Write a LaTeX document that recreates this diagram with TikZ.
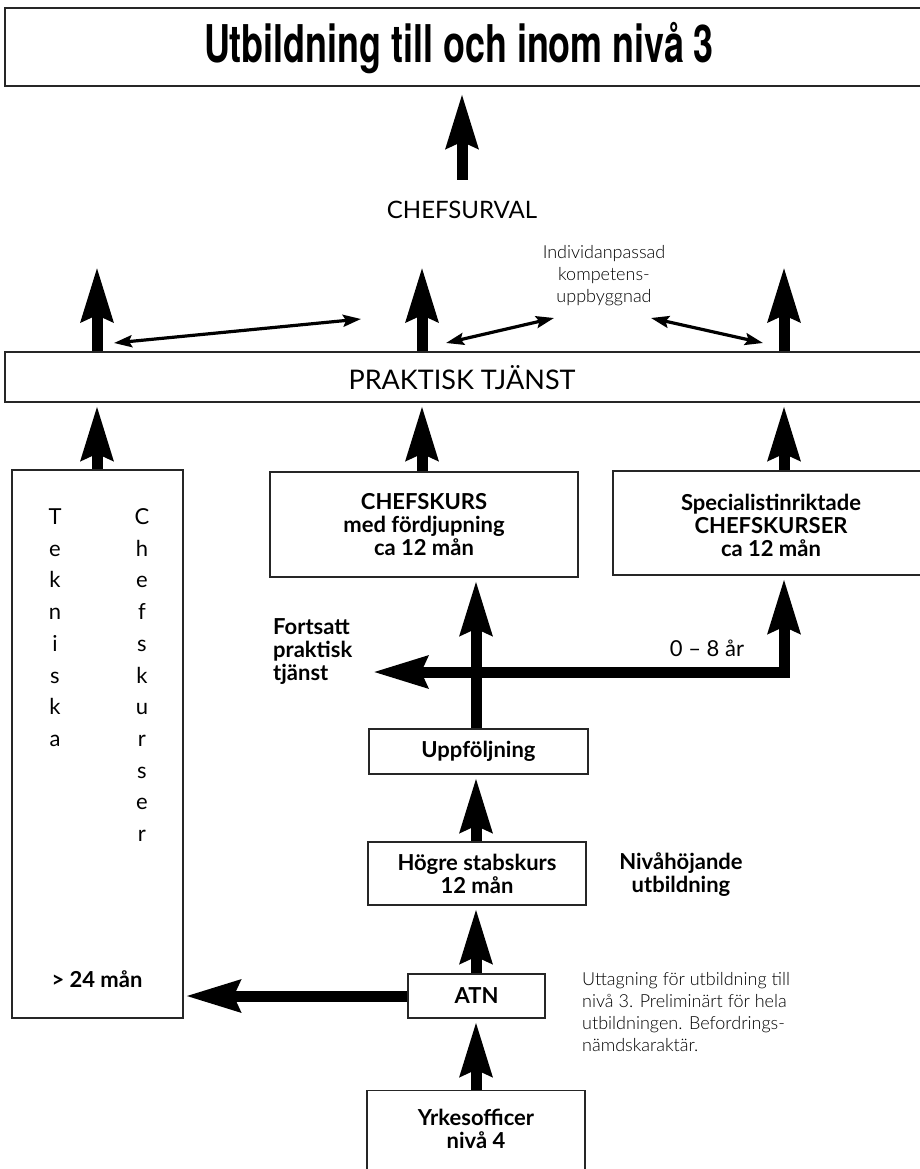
\documentclass[tikz,border=0pt]{standalone}
\usepackage{fontspec}
\usepackage{graphicx}
\setmainfont{Lato}
\newfontfamily\titlefont{TeX Gyre Heros}
\newfontfamily\lightfont{Lato Light}
\usetikzlibrary{arrows.meta}
\begin{document}
\begin{tikzpicture}[x=1pt,y=-1pt,
  bigtip/.tip={Stealth[length=54pt,width=31pt,inset=6pt]},
  smalltip/.tip={Stealth[length=18pt,width=12pt,inset=3pt]},
  box/.style={draw=black!85, line width=1.2pt, fill=white, inner sep=0pt},
  big/.style={line width=11pt, -bigtip, line join=miter},
  dbl/.style={line width=3.2pt, smalltip-smalltip},
  bt/.style={font=\fontsize{22}{23}\selectfont\bfseries, align=center, inner sep=0pt},
  rt/.style={font=\fontsize{22}{23}\selectfont, align=center, inner sep=0pt},
  lt/.style={font=\lightfont\fontsize{18}{22}\selectfont, inner sep=0pt},
]
\useasboundingbox (0,0) rectangle (920,1169);
\fill[white] (0,0) rectangle (920,1169);
\clip (0,0) rectangle (920,1169);

% columns
\coordinate (c1) at (97,0);
\coordinate (c2) at (422,0);
\coordinate (c3) at (784,0);
\coordinate (col) at (476,0);

% title
\node[box, minimum width=920pt, minimum height=78pt] (title) at (465,47) {};
\node[inner sep=0pt] (titletext) at (459,48) {\titlefont\bfseries\fontsize{52}{52}\selectfont\scalebox{0.69}[1]{Utbildning till och inom nivå 3}};

\coordinate (cv) at (462,180);
\draw[big, shorten >=7pt] (cv) -- (cv |- title.south);
\node[rt, font=\fontsize{24}{24}\selectfont] (chefsurval) at (462,210) {CHEFSURVAL};

% praktisk tjanst
\node[box, minimum width=920pt, minimum height=50pt] (prak) at (465,377) {};
\node[rt, font=\fontsize{27}{27}\selectfont] (praktext) at (462,378) {PRAKTISK TJÄNST};

\coordinate (t1) at (97,267);
\coordinate (t2) at (422,267);
\coordinate (t3) at (784,267);
\draw[big] (c1 |- prak.north) -- (t1);
\draw[big] (c2 |- prak.north) -- (t2);
\draw[big] (c3 |- prak.north) -- (t3);

\node[lt, align=center] (indiv) at (604,276) {Individanpassad\\kompetens-\\uppbyggnad};
\coordinate (d1a) at (114,343); \coordinate (d1b) at (361,319);
\coordinate (d2a) at (446,343); \coordinate (d2b) at (554,318);
\coordinate (d3a) at (651,318); \coordinate (d3b) at (763,343);
\draw[dbl] (d1a) -- (d1b);
\draw[dbl] (d2a) -- (d2b);
\draw[dbl] (d3a) -- (d3b);

% boxes under praktisk tjanst
\node[box, minimum width=171pt, minimum height=548pt] (tall) at (97.5,744) {};
\node[box, minimum width=308pt, minimum height=105pt] (chefs) at (424,524.5) {};
\node[bt] (chefstext) at (424,525) {CHEFSKURS\\med fördjupning\\ca 12 mån};
\node[box, minimum width=347pt, minimum height=104pt] (spec) at (786.5,523) {};
\node[bt] (spectext) at (771,525) {Specialistinriktade\\CHEFSKURSER\\ca 12 mån};

\draw[big, shorten >=3pt] (c1 |- tall.north) -- (c1 |- prak.south);
\draw[big, shorten >=3pt] (c2 |- chefs.north) -- (c2 |- prak.south);
\draw[big, shorten >=3pt] (c3 |- spec.north) -- (c3 |- prak.south);

% tall box letters
\foreach \l [count=\i from 0] in {T,e,k,n,i,s,k,a}
  \node[rt, anchor=base] (tk\i) at (55,{524.5+31.7*\i}) {\l};
\foreach \l [count=\i from 0] in {C,h,e,f,s,k,u,r,s,e,r}
  \node[rt, anchor=base] (cs\i) at (142,{524.5+31.7*\i}) {\l};
\node[bt] (tallmon) at (97,979) {> 24 mån};

% central column
\node[box, minimum width=219pt, minimum height=45pt] (uppf) at (478.5,751.5) {};
\node[bt] (uppftext) at (478.5,751) {Uppföljning};
\node[box, minimum width=218pt, minimum height=63pt] (hogre) at (477,873.5) {};
\node[bt] (hogretext) at (477,874) {Högre stabskurs\\12 mån};
\node[box, minimum width=137pt, minimum height=44pt] (atn) at (476.5,996) {};
\node[bt] (atntext) at (476.5,996) {ATN};
\node[box, anchor=north, minimum width=218pt, minimum height=110pt] (yrk) at (476,1090) {};
\node[bt] (yrktext) at (476,1129) {Yrkesofficer\\nivå 4};

\coordinate (bar) at (0,672);
\coordinate (fortend) at (373,672);
\draw[big, shorten >=3pt] (col |- uppf.north) -- (col |- chefs.south);
\draw[line width=11pt, line join=miter, bigtip-bigtip, shorten >=3pt] (fortend) -- (c3 |- bar) -- (c3 |- spec.south);
\draw[big, shorten >=3pt] (col |- hogre.north) -- (col |- uppf.south);
\draw[big, shorten >=3pt] (col |- atn.north) -- (col |- hogre.south);
\draw[big, shorten >=2pt] (atn.west) -- (atn.west -| tall.east);
\draw[big, shorten >=3pt] (col |- yrk.north) -- (col |- atn.south);

% labels
\node[bt, align=left, anchor=north west] (fort) at (273,618) {Fortsatt\\praktisk\\tjänst};
\node[rt] (ar) at (707,648) {0 – 8 år};
\node[bt] (nivah) at (681,875) {Nivåhöjande\\utbildning};
\node[lt, align=left, anchor=north west] (uttag) at (582,972) {Uttagning för utbildning till\\nivå 3. Preliminärt för hela\\utbildningen. Befordrings-\\nämdskaraktär.};
\end{tikzpicture}
\end{document}
